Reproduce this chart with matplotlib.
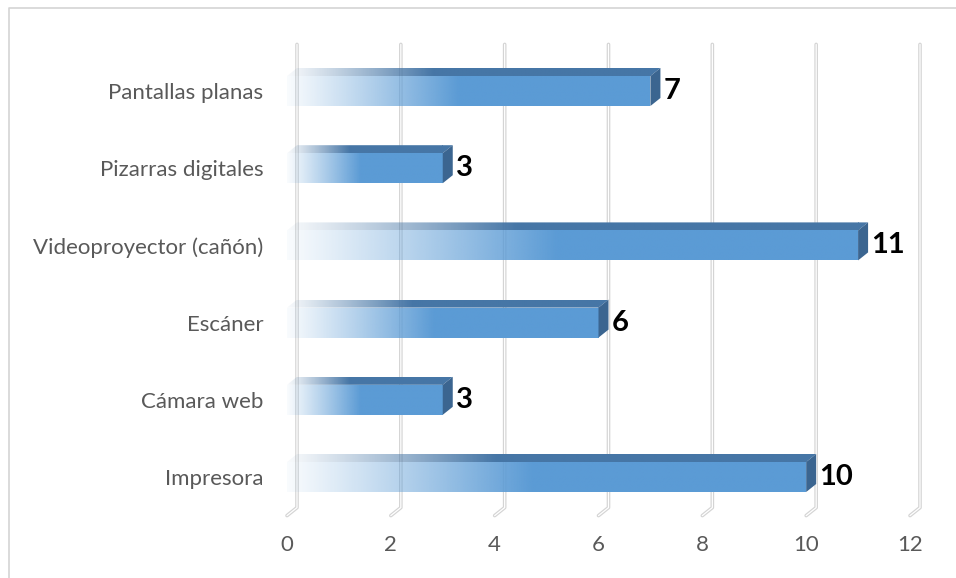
import numpy as np
import matplotlib.pyplot as plt
from matplotlib.patches import Polygon
from matplotlib.lines import Line2D
from matplotlib.colors import to_rgb

plt.rcParams['font.family'] = ['Lato', 'DejaVu Sans']

CATEGORIES = ['Pantallas planas', 'Pizarras digitales', 'Videoproyector (cañón)',
              'Escáner', 'Cámara web', 'Impresora']
VALUES = [7, 3, 11, 6, 3, 10]
XTICKS = [0, 2, 4, 6, 8, 10, 12]

FRONT = '#5B9BD5'
TOP = '#4676A6'
SIDE = '#3B6590'
GRID = '#D4D4D4'
TEXT = '#595959'

fig = plt.figure(figsize=(9.56, 5.78), dpi=100)
W, H = 956, 578
ax = fig.add_axes([287 / W, 1 - 515.6 / H, 623 / W, 463.2 / H])
ax.set_xlim(0, 12)
ax.set_ylim(-0.5, 5.5)

# depth of the 3d box in pixels, turned into data units
pos = ax.get_position()
px_x = pos.width * W / 12
px_y = pos.height * H / 6
ddx = 10 / px_x
ddy = 8 / px_y
hh = 15 / px_y


def gradient(color, n=300, reach=0.47):
    rgb = np.array(to_rgb(color))
    t = np.linspace(0, 1, n)
    a = np.clip(t / reach, 0, 1) ** 1.1 * 0.96 + 0.04
    img = np.zeros((1, n, 4))
    img[0, :, :3] = rgb
    img[0, :, 3] = a
    return img


# back wall grid lines with the floor segment
for v in XTICKS:
    xs = [v, v + ddx, v + ddx]
    ys = [-0.5, -0.5 + ddy, 5.5 + ddy]
    ax.plot(xs, ys, color=GRID, lw=2.6, solid_capstyle='round',
            solid_joinstyle='round', clip_on=False, zorder=1)
    ax.plot(xs, ys, color='white', lw=0.9, solid_capstyle='round',
            solid_joinstyle='round', clip_on=False, zorder=1)

rows = list(range(len(CATEGORIES)))[::-1]
for y, v in zip(rows, VALUES):
    # front face
    front = Polygon([(0, y - hh), (v, y - hh), (v, y + hh), (0, y + hh)],
                    closed=True, fill=False, edgecolor='none')
    ax.add_patch(front)
    im = ax.imshow(gradient(FRONT), extent=(0, v, y - hh, y + hh),
                   aspect='auto', interpolation='bilinear', zorder=3)
    im.set_clip_path(front)

    # top face
    top = Polygon([(0, y + hh), (v, y + hh), (v + ddx, y + hh + ddy),
                   (ddx, y + hh + ddy)], closed=True, fill=False, edgecolor='none')
    ax.add_patch(top)
    im = ax.imshow(gradient(TOP, reach=0.4), extent=(0, v, y + hh, y + hh + ddy),
                   aspect='auto', interpolation='bilinear', zorder=3)
    im.set_clip_path(top)
    im2 = ax.imshow(gradient(TOP)[:, -1:, :], extent=(v - 0.01, v + ddx, y + hh, y + hh + ddy),
                    aspect='auto', zorder=3)
    im2.set_clip_path(top)

    # right side face
    ax.add_patch(Polygon([(v, y - hh), (v, y + hh), (v + ddx, y + hh + ddy),
                          (v + ddx, y - hh + ddy)], closed=True,
                         facecolor=SIDE, edgecolor='none', zorder=3))

    ax.annotate(str(v), xy=(v + ddx, y), xytext=(2.5, 0), textcoords='offset points',
                ha='left', va='center', fontsize=21, fontweight='bold',
                color='black', zorder=4)

ax.set_xlim(0, 12)
ax.set_ylim(-0.5, 5.5)
ax.set_xticks(XTICKS)
ax.set_xticklabels([str(t) for t in XTICKS], fontsize=16, color=TEXT)
ax.set_yticks(rows)
ax.set_yticklabels(CATEGORIES, fontsize=16, color=TEXT)
ax.tick_params(axis='x', length=0, pad=14)
ax.tick_params(axis='y', length=0, pad=17)
for s in ax.spines.values():
    s.set_visible(False)
ax.patch.set_visible(False)

# chart area border (left and top edges)
fig.add_artist(Line2D([8.5 / W, 8.5 / W, 1], [0, 1 - 7.5 / H, 1 - 7.5 / H],
                      color=GRID, lw=1.2))

fig.savefig('out.png', dpi=100)
